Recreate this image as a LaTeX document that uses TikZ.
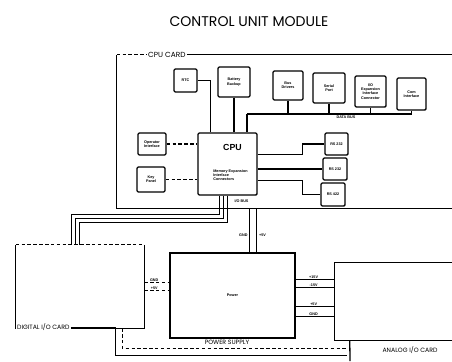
\documentclass[tikz,border=0pt]{standalone}
\usepackage{fontspec}
\setsansfont{Liberation Sans}
\newfontfamily\titlefont{Poppins}
\usetikzlibrary{calc, positioning}

\newcommand{\tinyfont}{\sffamily\bfseries\fontsize{3.2}{3.6}\selectfont}
\newcommand{\capfont}{\titlefont\fontsize{5.3}{6}\selectfont}

\begin{document}
\begin{tikzpicture}[x=0.03cm, y=-0.03cm,%
  blk/.style={draw, line width=1.1pt, rounded corners=1pt, inner sep=1pt, align=center, font=\tinyfont},%
  card/.style={draw=none, inner sep=0pt},%
  wire/.style={line width=1.1pt},%
  dwire/.style={line width=0.9pt, dash pattern=on 3pt off 2pt},%
  tag/.style={font=\tinyfont, inner sep=0.5pt},%
  caption/.style={font=\capfont, inner sep=1pt}%
]
  \clip (0,0) rectangle (452,361);
  \node[font=\titlefont\fontsize{12}{13}\selectfont] (title) at (249,22) {CONTROL UNIT MODULE};
  % CPU card frame
  \node[card, minimum width=10.29cm, minimum height=4.59cm] (cpucard) at (288.5,131.5) {};
  \node[caption, font=\titlefont\fontsize{6.3}{7}\selectfont, anchor=west] (cardlbl) at ($(cpucard.north west)+(30,0)$) {CPU CARD};
  \draw[dwire] (cpucard.north west) -- (cardlbl.west);
  \draw[wire] (cardlbl.east) -- (cpucard.north east) -- (cpucard.south east) -- (cpucard.south west) -- (cpucard.north west);
  % Top row
  \node[blk, minimum width=0.69cm, minimum height=0.69cm] (rtc) at (185.5,80.5) {RTC};
  \node[blk, minimum width=0.96cm, minimum height=0.90cm] (bat) at (234,82) {Battery\\Backup};
  \node[blk, minimum width=0.90cm, minimum height=0.87cm] (drv) at (288,85.5) {Bus\\Drivers};
  \node[blk, minimum width=0.96cm, minimum height=0.90cm] (ser) at (329,88) {Serial\\Port};
  \node[blk, minimum width=0.93cm, minimum height=0.93cm] (exp) at (370.5,91.5) {I/O\\Expansion\\Interface\\Connector};
  \node[blk, minimum width=0.87cm, minimum height=0.96cm] (com) at (411.5,94) {Com\\Interface};
  % CPU
  \node[blk, minimum width=1.77cm, minimum height=1.86cm] (cpu) at (227.5,164) {};
  \node[font=\sffamily\bfseries\fontsize{7.5}{8}\selectfont] (cpulbl) at ($(cpu.north)+(5,15)$) {CPU};
  \node[tag, align=left] (cpumem) at ($(cpu.center)+(3,11)$) {Memory Expansion\\Interface\\Connectors};
  \node[blk, minimum width=0.84cm, minimum height=0.66cm] (opr) at (152,144) {Operator\\Interface};
  \node[blk, minimum width=0.84cm, minimum height=0.75cm] (key) at (151,179.5) {Key\\Panel};
  \node[blk, minimum width=0.69cm, minimum height=0.66cm] (rs1) at (336.5,144) {RS 232};
  \node[blk, minimum width=0.72cm, minimum height=0.66cm] (rs2) at (335,169) {RS 232};
  \node[blk, minimum width=0.72cm, minimum height=0.69cm] (rs3) at (333,194.5) {RS 422};
  % Data bus
  \coordinate (busL) at (247,114);
  \coordinate (busR) at (411.5,114);
  \draw[wire] (busL) -- (busR);
  \node[tag] (buslbl) at (346,117.5) {DATA BUS};
  \foreach \b in {drv, ser, exp, com}
    \draw[wire] (\b.south) -- (\b.south |- busL);
  \draw[wire] (busL) -- (busL |- cpu.north);
  \draw[wire] (rtc.east) -| ($(cpu.north west)+(13,0)$);
  \draw[wire] (bat.south) -- (bat.south |- cpu.north);
  \draw[dwire] (opr.east) -- (opr.east -| cpu.west);
  \draw[dwire] (key.east) -- (key.east -| cpu.west);
  \draw[wire] ($(cpu.north east)+(0,22)$) -- ++(45,0) |- (rs1.west);
  \draw[wire] (cpu.east |- rs2.west) -- (rs2.west);
  \draw[wire] ($(cpu.north east)+(0,48)$) -- ++(45,0) |- (rs3.west);
  % Lower cards
  \node[card, minimum width=3.84cm, minimum height=2.49cm] (dig) at (80,286.5) {};
  \node[blk, minimum width=3.75cm, minimum height=2.55cm, rounded corners=0pt] (pwr) at (232.5,295.5) {Power};
  \node[card, minimum width=3.9cm, minimum height=2.31cm] (ana) at (400,301.5) {};
  \draw[dwire] (dig.north west) -- (dig.north east);
  \draw[wire] (dig.north east) -- (dig.south east) -- (dig.south west) -- (dig.north west);
  \draw[wire] (ana.north east) -- (ana.north west) -- (ana.south west) -- (ana.south east);
  \node[caption, fill=white, anchor=west] (diglbl) at ($(dig.south west)+(0,-1)$) {DIGITAL I/O CARD};
  \node[caption] (pwrlbl) at (227,342.5) {POWER SUPPLY};
  \node[caption] (analbl) at (410,350) {ANALOG I/O CARD};
  % I/O bus to digital card
  \foreach \i in {0,1,2}
    \draw[wire] ($(cpu.south)+(-8+4*\i,0)$) -- ++(0,19+4*\i) -| ($(dig.north west)+(56+4*\i,0)$);
  \node[tag] (iobus) at ($(cpu.south)+(14,6)$) {I/O BUS};
  % Power feed to CPU card
  \coordinate (pin1) at ($(pwr.north west)+(80,0)$);
  \coordinate (pin2) at ($(pwr.north west)+(87,0)$);
  \draw[wire] (pin1) -- (pin1 |- cpucard.south);
  \draw[wire] (pin2) -- (pin2 |- cpucard.south);
  \node[tag, anchor=east] (gnd1) at ($(pin1)+(-1,-17)$) {GND};
  \node[tag, anchor=west] (vcc1) at ($(pin2)+(2,-17)$) {+5V};
  % Power to digital card
  \foreach \dy/\v in {38/GND, 46/+5V} {
    \coordinate (pd) at ($(dig.north east)+(0,\dy)$);
    \draw[dwire] (pd) -- (pd -| pwr.west);
    \node[tag] at ($(pd)+(10,-2.5)$) {\v};
  }
  % Power to analog card
  \foreach \dy/\v in {27/+15V, 35/-15V, 54/+5V, 64/GND} {
    \coordinate (pa) at ($(pwr.north east)+(0,\dy)$);
    \draw[wire] (pa) -- (pa -| ana.west);
    \node[tag] at ($(pa)+(18,-2.5)$) {\v};
  }
  % Bottom lines
  \coordinate (aj) at ($(ana.south west)+(15,0)$);
  \coordinate (aend) at (350,361);
  \draw[wire] (aj) -- (aend);
  \draw[dwire] ($(dig.south east)+(-22,0)$) |- ($(aj)+(-3,8)$);
  \draw[wire] (diglbl.east) -| ($(dig.south east)+(-29,27)$) -- ++(232,0);
\end{tikzpicture}
\end{document}
